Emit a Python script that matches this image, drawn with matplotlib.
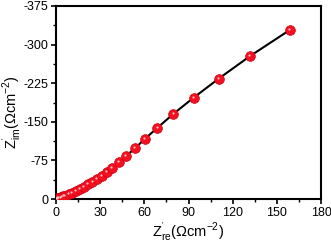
import numpy as np
import matplotlib
matplotlib.use("Agg")
import matplotlib.pyplot as plt
from matplotlib.ticker import MultipleLocator

plt.rcParams['font.family'] = ['Liberation Sans', 'DejaVu Sans']
plt.rcParams['mathtext.default'] = 'regular'
plt.rcParams['axes.unicode_minus'] = False

# impedance data (Ohm cm^-2), imaginary part negative
z_re = [0.5, 1.0, 1.6, 2.3, 3.1, 4.1, 5.1, 6.1, 8.6, 11.1, 13.6, 16.4, 18.9,
        21.8, 24.8, 27.7, 31.1, 34.5, 38.2, 42.7, 47.5, 53.6, 60.2, 68.9,
        79.8, 93.4, 110.4, 131.8, 158.6]
z_im = [-0.3, -0.8, -1.5, -2.3, -3.2, -4.2, -5.4, -6.5, -9.7, -12.2, -15.5,
        -19.4, -23.3, -28.5, -33.0, -38.8, -45.3, -51.8, -60.2, -71.2, -83.5,
        -98.4, -116.5, -138.4, -165.6, -196.7, -233.6, -277.7, -328.0]

fig = plt.figure(figsize=(3.31, 2.47), dpi=100)
ax = fig.add_axes([0.169, 0.194, 0.801, 0.782])

ax.plot(z_re, z_im, '-', color='black', lw=1.5, zorder=2)
ax.plot(z_re, z_im, 'o', ms=7, mfc='#f41020', mec='#d00010', mew=0.5, zorder=3)
ax.plot(np.array(z_re) - 0.6, np.array(z_im) - 1.8, 'o', ms=1.6, mfc='#ffc0c0',
        mec='none', zorder=4)

ax.set_xlim(0, 180)
ax.set_ylim(0, -375)
ax.xaxis.set_major_locator(MultipleLocator(30))
ax.xaxis.set_minor_locator(MultipleLocator(15))
ax.yaxis.set_major_locator(MultipleLocator(75))
ax.yaxis.set_minor_locator(MultipleLocator(37.5))
ax.tick_params(which='major', direction='out', length=3.5, width=1.2, labelsize=9, pad=2)
ax.tick_params(which='minor', direction='out', length=2, width=1)
for s in ax.spines.values():
    s.set_linewidth(1.5)

ax.set_xlabel(r"Z$^{'}_{re}$($\Omega$cm$^{-2}$)", fontsize=10.5, labelpad=1)
ax.set_ylabel(r"Z$^{'}_{im}$($\Omega$cm$^{-2}$)", fontsize=10.5, labelpad=0)
ax.yaxis.set_label_coords(-0.125, 0.45)

fig.savefig('out.png', dpi=100)
